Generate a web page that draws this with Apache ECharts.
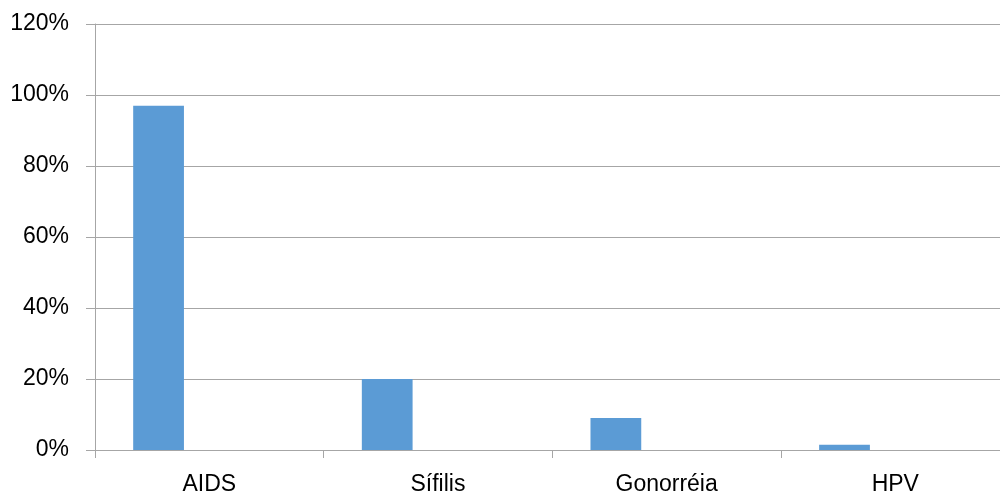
<!DOCTYPE html>
<html>
<head>
<meta charset="utf-8">
<script src="https://cdn.jsdelivr.net/npm/echarts@6/dist/echarts.min.js"></script>
<style>
  html, body { margin: 0; padding: 0; background: #ffffff; }
  #chart { width: 1000px; height: 497px; }
</style>
</head>
<body>
<div id="chart"></div>
<script>
// Diseases and the share of answers for each one (percent)
const categories = ['AIDS', 'Sífilis', 'Gonorréia', 'HPV'];
const shares = [97, 20, 9, 1.5];
// Two further series slots exist in the sheet but hold no values
const emptySlotA = [null, null, null, null];
const emptySlotB = [null, null, null, null];
const yTicks = { min: 0, max: 120, step: 20 };

const axisGray = '#a6a6a6';
const font = 'Liberation Sans, Arial, sans-serif';

const chart = echarts.init(document.getElementById('chart'), null, { renderer: 'canvas' });

chart.setOption({
  animation: false,
  backgroundColor: '#ffffff',
  grid: { left: 95, top: 24, right: -9.6, height: 426, containLabel: false, outerBoundsMode: 'none' },
  xAxis: {
    type: 'category',
    data: categories,
    boundaryGap: true,
    axisLine: { show: true, lineStyle: { color: axisGray, width: 1 } },
    axisTick: { show: true, length: 8, alignWithLabel: false, lineStyle: { color: axisGray } },
    axisLabel: { color: '#000000', fontFamily: font, fontSize: 23, margin: 23 },
    splitLine: { show: false }
  },
  yAxis: {
    type: 'value',
    min: yTicks.min,
    max: yTicks.max,
    interval: yTicks.step,
    axisLine: { show: true, lineStyle: { color: axisGray, width: 1 } },
    axisTick: { show: true, length: 9, lineStyle: { color: axisGray } },
    axisLabel: { color: '#000000', fontFamily: font, fontSize: 23, margin: 26, formatter: '{value}%' },
    splitLine: { show: true, lineStyle: { color: axisGray, width: 1 } }
  },
  series: [
    {
      type: 'bar',
      data: shares,
      barGap: '0%',
      barCategoryGap: '33.4%',
      itemStyle: { color: '#5b9bd5' }
    },
    { type: 'bar', data: emptySlotA, itemStyle: { color: '#ed7d31' } },
    { type: 'bar', data: emptySlotB, itemStyle: { color: '#a5a5a5' } }
  ]
});
</script>
</body>
</html>
